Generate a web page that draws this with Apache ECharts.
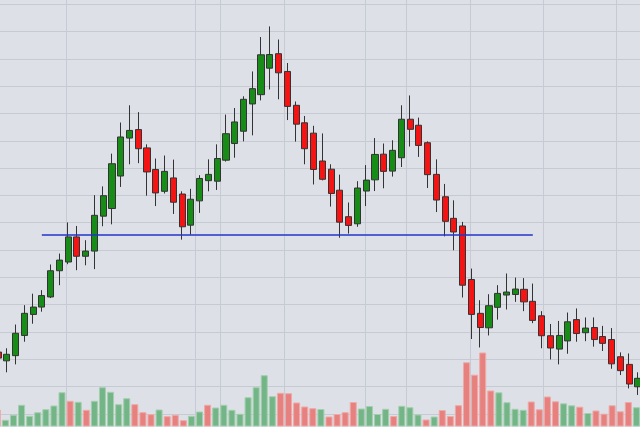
<!DOCTYPE html>
<html>
<head>
<meta charset="utf-8">
<script src="https://cdn.jsdelivr.net/npm/echarts@6/dist/echarts.min.js"></script>
<style>
html,body{margin:0;padding:0;background:#dde0e6;}
#c{width:640px;height:427px;}
</style>
</head>
<body>
<div id="c"></div>
<script>
// ---- price candles: [open, close, low, high] as separate named lists ----
const opens  = [22.6,19.4,21.3,28.7,36.4,39.1,42.8,52.4,55.6,64.8,57.7,59.6,72.4,75.2,87.1,101.0,104.1,97.4,89.5,81.5,86.4,80.5,69.1,78.0,85.4,85.2,92.9,99.0,103.5,113.5,116.9,126.6,131.9,125.4,113.0,106.6,102.8,92.6,89.6,81.9,72.2,69.6,81.6,85.7,95.1,88.9,93.8,107.9,105.7,99.3,87.7,79.5,71.6,68.8,49.2,36.8,31.5,39.0,43.5,43.7,45.6,41.2,35.9,28.6,23.7,26.7,34.5,29.7,31.6,28.3,27.2,20.9,18.1,9.9];
const closes = [20.4,21.8,29.5,36.8,39.1,43.3,52.4,56.3,64.8,57.7,59.6,72.7,79.9,91.6,101.4,103.8,97.1,88.6,80.9,88.8,77.5,68.5,78.6,86.2,87.7,93.5,102.6,106.9,115.2,119.1,131.5,131.6,124.9,112.6,106.1,97.1,89.5,85.9,80.7,70.2,69.0,82.7,85.6,95.0,88.8,96.5,107.9,104.2,98.3,87.6,78.3,70.5,66.6,47.1,36.4,31.6,39.6,44.1,44.6,45.7,41.0,34.2,28.6,24.1,28.7,33.7,29.4,31.4,27.2,25.8,18.3,15.8,10.9,13.0];
const lows   = [19.0,15.2,18.1,26.4,33.0,37.4,42.4,47.1,54.8,52.6,54.4,53.0,68.7,69.4,83.1,91.4,91.8,79.9,76.1,80.7,73.2,63.8,65.6,73.6,81.5,82.0,92.4,93.8,99.8,102.0,114.8,118.8,115.2,107.6,99.7,91.4,84.0,85.5,75.9,64.5,66.0,68.5,76.1,81.6,82.6,86.9,90.4,97.9,94.1,82.7,73.9,65.0,59.9,42.6,27.4,24.3,28.7,34.5,38.2,41.0,37.6,33.2,24.0,19.9,18.1,22.0,26.4,26.6,24.6,23.0,16.5,14.2,9.3,6.9];
const highs  = [24.1,24.0,32.7,39.8,44.0,45.3,54.7,58.7,70.1,68.8,63.6,80.1,83.3,95.3,106.7,113.0,110.5,98.7,93.5,94.6,93.1,81.5,82.4,87.4,93.2,98.7,109.6,112.0,116.3,125.4,138.0,141.9,137.1,128.5,114.4,109.1,105.5,102.7,91.4,87.6,77.4,85.2,91.1,101.0,99.0,100.2,113.0,116.6,108.5,99.8,93.2,84.2,78.2,70.3,53.2,41.6,43.8,47.1,51.4,49.9,49.7,47.7,37.6,32.9,34.0,37.1,38.6,35.3,35.3,32.2,31.4,22.5,22.1,15.2];

// ---- volume histogram (own sequence of bars) ----
const volumes = [17,6.7,11.7,21.7,10.7,14.3,17.3,21,34.3,25.7,24.7,16.7,25.7,39.3,34.7,22.3,28.3,22.3,14.3,12.3,17,10.3,11.7,6.3,10.7,15,21.7,19,21.7,16.7,12.7,29.3,39.3,51.3,30.3,33.7,33.3,24,20,18.3,17.5,10,12.5,14.3,24.5,18,20.5,12.5,17.7,10.5,20.7,19.3,12,7,10,16.5,10.5,21.3,64.2,51.8,74,36,34.2,24.3,17.7,16.7,25,17.2,30,25.2,23.2,21.2,19.8,13.5,16,12.8,21.2,15.2,24.5,19.3];
const volumeUp = [0,1,1,1,1,1,1,1,1,0,1,0,1,1,1,1,1,0,0,0,1,0,0,0,1,1,0,1,1,1,1,1,1,1,1,0,0,0,0,0,1,0,0,0,0,1,1,1,1,0,1,1,1,0,1,0,0,0,0,0,0,0,1,1,1,1,0,0,0,0,1,1,0,1,0,0,0,0,0,1];

// ---- vertical grid line positions (volume-bar boundaries) ----
const verticalGridAt = [9,25,28,36,46,51,59,68,77];

// ---- neckline ----
const necklineLevel = 65.6;
const necklineFrom = 4.7;
const necklineTo = 60.6;

const candleCats = opens.map((_, i) => 'C' + (i + 1));
const volumeCats = volumes.map((_, i) => 'V' + (i + 1));
const candleData = opens.map((o, i) => [o, closes[i], lows[i], highs[i]]);

const gridColor = '#c6cad2';

const chart = echarts.init(document.getElementById('c'), null, {renderer: 'canvas'});
chart.setOption({
  backgroundColor: '#dde0e6',
  animation: false,
  grid: [
    {left: -6.38, right: -2.4, top: 4.3, bottom: 13.2, containLabel: false, outerBoundsMode: 'none'},
    {left: -6.75, right: -0.45, top: 0, bottom: 0.5, containLabel: false, outerBoundsMode: 'none'}
  ],
  xAxis: [
    {type: 'category', gridIndex: 0, data: candleCats, boundaryGap: true,
     axisLine: {show: false}, axisTick: {show: false}, axisLabel: {show: false}, splitLine: {show: false}},
    {type: 'category', gridIndex: 1, data: volumeCats, boundaryGap: true,
     axisLine: {show: false}, axisTick: {show: false}, axisLabel: {show: false},
     splitLine: {show: true, interval: (i) => verticalGridAt.indexOf(i) >= 0,
                 lineStyle: {color: gridColor, width: 1}}}
  ],
  yAxis: [
    {type: 'value', gridIndex: 0, min: 0, max: 150, interval: 10,
     axisLine: {show: false}, axisTick: {show: false}, axisLabel: {show: false},
     splitLine: {show: true, lineStyle: {color: gridColor, width: 1}}},
    {type: 'value', gridIndex: 1, min: 0, max: 426.5,
     axisLine: {show: false}, axisTick: {show: false}, axisLabel: {show: false},
     splitLine: {show: false}}
  ],
  series: [
    {
      type: 'bar', xAxisIndex: 1, yAxisIndex: 1, z: 1,
      barWidth: 7,
      data: volumes.map((v, i) => ({
        value: v,
        itemStyle: {
          color: volumeUp[i] ? '#74b588' : '#e6817f',
          borderColor: volumeUp[i] ? '#a3cfae' : '#efa9a7',
          borderWidth: 1
        }
      }))
    },
    {
      type: 'candlestick', xAxisIndex: 0, yAxisIndex: 0, z: 3,
      barWidth: 6.6,
      data: candleData,
      itemStyle: {
        color: '#178c17', color0: '#f51414',
        borderColor: '#333333', borderColor0: '#333333', borderWidth: 1
      },
      markLine: {
        silent: true, symbol: ['none', 'none'], label: {show: false},
        lineStyle: {color: '#2036c8', width: 1.5, type: 'solid'},
        data: [[
          {coord: [necklineFrom, necklineLevel]},
          {coord: [necklineTo, necklineLevel]}
        ]]
      }
    }
  ]
});
</script>
</body>
</html>
